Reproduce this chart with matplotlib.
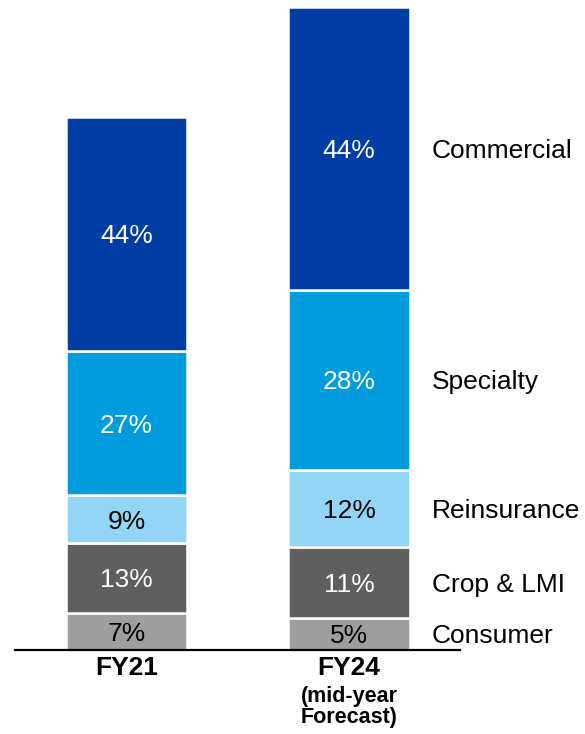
import matplotlib
matplotlib.use("Agg")
import matplotlib.pyplot as plt

plt.rcParams['font.family'] = ['Liberation Sans', 'DejaVu Sans']

# Gross written premium mix (stacked bottom -> top)
years = ['FY21', 'FY24']
year_notes = ['', '(mid-year\nForecast)']
segments = ['Consumer', 'Crop & LMI', 'Reinsurance', 'Specialty', 'Commercial']
totals = [18.5, 22.3]  # estimated total size of each bar
shares_fy21 = [7, 13, 9, 27, 44]
shares_fy24 = [5, 11, 12, 28, 44]

colors = ['#9d9e9d', '#5f5f5f', '#93d5f5', '#009cde', '#003da5']
text_colors = ['black', 'white', 'black', 'white', 'white']

fig = plt.figure(figsize=(5.85, 7.34), dpi=100)
ax = fig.add_axes([0, 84 / 734, 1, 643 / 734])

shares = [shares_fy21, shares_fy24]
bar_w = 0.544
for i, (tot, sh) in enumerate(zip(totals, shares)):
    bottom = 0.0
    for j, s in enumerate(sh):
        h = tot * s / 100
        ax.bar(i, h, bottom=bottom, width=bar_w, color=colors[j],
               edgecolor='white', linewidth=1.8)
        ax.text(i, bottom + h / 2, f'{s}%', ha='center', va='center_baseline',
                fontsize=19, color=text_colors[j])
        if i == 1:
            ax.text(1.373, bottom + h / 2, segments[j], ha='left',
                    va='center_baseline', fontsize=19, color='black')
        bottom += h

# baseline
ax.plot([-0.5, 1.5], [0, 0], color='black', linewidth=1.6, clip_on=False)

for i, (yr, note) in enumerate(zip(years, year_notes)):
    ax.annotate(yr, (i, 0), xytext=(0, -18), textcoords='offset pixels',
                ha='center', va='center', fontsize=19, fontweight='bold',
                annotation_clip=False)
    if note:
        ax.annotate(note, (i, 0), xytext=(0, -57), textcoords='offset pixels',
                    ha='center', va='center', fontsize=15.5, fontweight='bold',
                    linespacing=0.95, annotation_clip=False)

ax.set_xlim(-0.5685, 2.0607)
ax.set_ylim(0, max(totals))
ax.axis('off')

fig.savefig('out.png', dpi=100)
